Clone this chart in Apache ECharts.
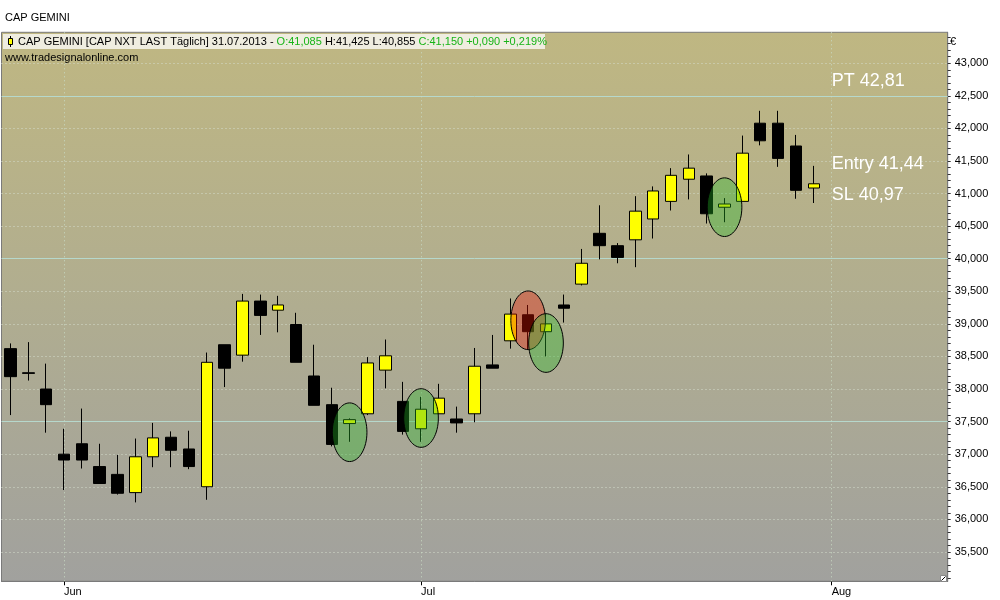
<!DOCTYPE html>
<html><head><meta charset="utf-8">
<script src="https://cdn.jsdelivr.net/npm/echarts@6/dist/echarts.min.js"></script>
<style>html,body{margin:0;padding:0;background:#fff}#c{width:1000px;height:600px}</style>
</head><body><div id="c"></div>
<script>
// ---- data ----
const categories = [
  '29.05.2013','30.05.2013','31.05.2013',
  '03.06.2013','04.06.2013','05.06.2013','06.06.2013','07.06.2013',
  '10.06.2013','11.06.2013','12.06.2013','13.06.2013','14.06.2013',
  '17.06.2013','18.06.2013','19.06.2013','20.06.2013','21.06.2013',
  '24.06.2013','25.06.2013','26.06.2013','27.06.2013','28.06.2013',
  '01.07.2013','02.07.2013','03.07.2013','04.07.2013','05.07.2013',
  '08.07.2013','09.07.2013','10.07.2013','11.07.2013','12.07.2013',
  '15.07.2013','16.07.2013','17.07.2013','18.07.2013','19.07.2013',
  '22.07.2013','23.07.2013','24.07.2013','25.07.2013','26.07.2013',
  '29.07.2013','30.07.2013','31.07.2013',
  '01.08.2013','02.08.2013','05.08.2013','06.08.2013','07.08.2013','08.08.2013','09.08.2013'
];
const opens  = [38.62,38.25,38.00,37.00,37.16,36.81,36.69,36.41,36.96,37.26,37.08,36.50,38.68,38.52,39.35,39.21,38.99,38.20,37.76,37.47,37.62,38.29,37.81,37.39,37.62,37.54,37.62,38.37,38.74,39.14,38.88,39.29,39.61,40.39,40.20,40.29,40.61,40.88,41.22,41.27,40.79,40.88,42.08,42.08,41.73,41.085];
const highs  = [38.70,38.72,38.39,37.39,37.70,37.16,36.99,37.24,37.48,37.35,37.36,38.56,38.68,39.46,39.45,39.43,39.17,38.68,38.02,37.55,38.49,38.76,38.11,37.88,38.08,37.73,38.63,38.83,39.39,39.29,39.15,39.45,40.15,40.82,40.24,40.96,41.11,41.39,41.60,41.31,40.93,41.89,42.27,42.27,41.90,41.425];
const lows   = [37.60,38.13,37.33,36.45,36.78,36.55,36.38,36.26,36.80,36.80,36.77,36.30,38.03,38.42,38.83,38.87,38.41,37.75,37.12,37.19,37.60,38.01,37.30,37.19,37.62,37.33,37.49,38.32,38.62,38.61,38.50,39.02,39.59,39.99,39.93,39.87,40.31,40.74,40.91,40.54,40.56,40.88,41.74,41.41,40.92,40.855];
const closes = [38.19,38.24,37.76,36.91,36.91,36.55,36.40,36.96,37.25,37.06,36.81,38.41,38.32,39.35,39.13,39.29,38.41,37.75,37.15,37.53,38.40,38.51,37.35,37.69,37.86,37.48,38.35,38.32,39.15,38.88,39.00,39.24,39.93,40.20,40.02,40.73,41.04,41.28,41.39,40.69,40.84,41.62,41.81,41.54,41.05,41.15];

const monthTickIndex = [3, 23, 46];
const monthTickText  = ['Jun', 'Jul', 'Aug'];
const yLabelValues = [35.5,36,36.5,37,37.5,38,38.5,39,39.5,40,40.5,41,41.5,42,42.5,43];
const dottedLevels = [35.5,36,36.5,37,38,38.5,39,39.5,40.5,41,41.5,42,43];
const solidLevels  = [37.5,40,42.5];

const ellipseIndex = [19, 23, 29, 30, 40];
const ellipseValue = [37.337, 37.555, 39.055, 38.706, 40.791];
const ellipseKind  = ['buy','buy','sell','buy','buy'];

const annoText  = ['PT 42,81', 'Entry 41,44', 'SL 40,97'];
const annoValue = [42.73, 41.45, 40.97];
const annoIndex = 46;

const yMin = 35.049, yMax = 43.475;

// ---- build ----
const candleData = opens.map((o, i) => [o, closes[i], lows[i], highs[i]]);
const monthMap = {};
monthTickIndex.forEach((k, j) => { monthMap[k] = monthTickText[j]; });
const minorTicks = [];
for (let k = 351; k <= 434; k++) minorTicks.push(k / 10);

const FONT = '"Liberation Sans", Arial, sans-serif';

const markLineData = [];
dottedLevels.forEach(v => markLineData.push({yAxis: v, lineStyle: {color: '#d4ddcc', type: [1, 3], width: 1}}));
solidLevels.forEach(v => markLineData.push({yAxis: v, lineStyle: {color: '#b6d8cc', type: 'solid', width: 1}}));
monthTickIndex.forEach(k => markLineData.push({xAxis: categories[k], lineStyle: {color: '#c8dac4', type: [1, 3], width: 1}}));

const chart = echarts.init(document.getElementById('c'), null, {renderer: 'canvas'});
chart.setOption({
  animation: false,
  backgroundColor: '#ffffff',
  textStyle: {fontFamily: FONT},
  grid: {
    left: 1.5, right: 52.3, top: 32.3, bottom: 18.7,
    show: true,
    borderColor: '#7a7a7a', borderWidth: 1,
    backgroundColor: new echarts.graphic.LinearGradient(0, 0, 0, 1, [
      {offset: 0, color: '#bfb782'},
      {offset: 0.5, color: '#b0ad90'},
      {offset: 1, color: '#a1a19e'}
    ])
  },
  xAxis: {
    type: 'category',
    data: categories,
    boundaryGap: true,
    axisLine: {show: true, lineStyle: {color: '#7a7a7a'}},
    axisTick: {show: true, alignWithLabel: true, length: 4, interval: (i) => monthMap[i] !== undefined, lineStyle: {color: '#000'}},
    axisLabel: {
      show: true, interval: (i) => monthMap[i] !== undefined,
      formatter: (v, i) => monthMap[i] || '',
      align: 'left', margin: 5, color: '#000', fontSize: 11, fontFamily: FONT
    },
    splitLine: {show: false}
  },
  yAxis: {
    type: 'value', position: 'right',
    min: yMin, max: yMax,
    axisLine: {show: true, lineStyle: {color: '#7a7a7a'}},
    axisTick: {show: true, length: 3, customValues: minorTicks, lineStyle: {color: '#333'}},
    axisLabel: {
      show: true, customValues: yLabelValues, margin: 7,
      formatter: v => v.toFixed(3).replace('.', ','),
      color: '#000', fontSize: 11, fontFamily: FONT
    },
    splitLine: {show: false}
  },
  graphic: [
    {type: 'text', left: 5, top: 12, style: {text: 'CAP GEMINI', fill: '#000', font: '11px ' + FONT}},
    {type: 'rect', shape: {x: 3, y: 34, width: 542, height: 15}, style: {fill: '#efede0'}, z: 10},
    {type: 'line', shape: {x1: 10.5, y1: 36, x2: 10.5, y2: 47}, style: {stroke: '#000', lineWidth: 1}, z: 11},
    {type: 'rect', shape: {x: 8.5, y: 38.5, width: 4, height: 6}, style: {fill: '#ffff00', stroke: '#000', lineWidth: 1}, z: 12},
    {type: 'text', x: 18, y: 41.5, z: 12, style: {
      text: '{k|CAP GEMINI [CAP NXT LAST Täglich] 31.07.2013 - }{g|O:41,085}{k| H:41,425 L:40,855 }{g|C:41,150 +0,090 +0,219%}',
      verticalAlign: 'middle', font: '11px ' + FONT,
      rich: {k: {fill: '#000', font: '11px ' + FONT}, g: {fill: '#17b417', font: '11px ' + FONT}}
    }},
    {type: 'text', x: 5, y: 58, z: 12, style: {text: 'www.tradesignalonline.com', fill: '#000', font: '11px ' + FONT, verticalAlign: 'middle'}},
    {type: 'text', x: 950, y: 42, z: 12, style: {text: '€', fill: '#000', font: '11px ' + FONT, verticalAlign: 'middle'}},
    {type: 'rect', shape: {x: 940.5, y: 575.5, width: 6, height: 6}, style: {fill: '#fff', stroke: '#888', lineWidth: 1}, z: 12},
    {type: 'line', shape: {x1: 941.5, y1: 580.5, x2: 945.5, y2: 576.5}, style: {stroke: '#000', lineWidth: 1}, z: 13}
  ],
  series: [
    {
      type: 'candlestick',
      data: candleData,
      barWidth: 12,
      z: 3,
      itemStyle: {color: '#ffff00', color0: '#000000', borderColor: '#000000', borderColor0: '#000000', borderWidth: 1},
      markLine: {
        silent: true, symbol: 'none', z: 1, animation: false,
        label: {show: false},
        data: markLineData
      }
    },
    {
      type: 'custom',
      z: 5,
      silent: true,
      data: ellipseIndex.map((k, j) => [k, ellipseValue[j], ellipseKind[j] === 'sell' ? 1 : 0]),
      renderItem: (params, api) => {
        const c = api.coord([api.value(0), api.value(1)]);
        const s = api.size([1, 1]);
        const sell = api.value(2) === 1;
        return {
          type: 'ellipse',
          shape: {cx: c[0], cy: c[1], rx: s[0] * 0.97, ry: s[1] * 0.45},
          style: {fill: sell ? 'rgba(235,20,0,0.36)' : 'rgba(40,185,40,0.36)', stroke: '#000', lineWidth: 1}
        };
      }
    },
    {
      type: 'custom',
      z: 6,
      silent: true,
      data: annoText.map((t, j) => [annoIndex, annoValue[j], j]),
      renderItem: (params, api) => {
        const c = api.coord([api.value(0), api.value(1)]);
        return {
          type: 'text', x: c[0], y: c[1],
          style: {text: annoText[api.value(2)], fill: '#ffffff', font: '18px ' + FONT, align: 'left', verticalAlign: 'middle'}
        };
      }
    }
  ]
});
</script></body></html>
